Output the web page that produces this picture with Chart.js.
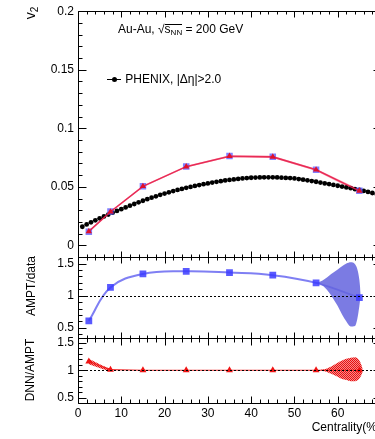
<!DOCTYPE html>
<html><head><meta charset="utf-8">
<script src="https://cdn.jsdelivr.net/npm/chart.js@4.4.1/dist/chart.umd.min.js"></script>
<style>
html,body{margin:0;padding:0;overflow:hidden;background:#fff;width:375px;height:439px}
#wrap{position:relative;width:400px;height:439px}
canvas{position:absolute;left:0;top:0}
.t{position:absolute;font-family:"Liberation Sans",Arial,Helvetica,sans-serif;color:#000;white-space:nowrap;line-height:1}
.rot{transform:translate(-50%,-50%) rotate(-90deg)}
</style></head><body>
<div id="wrap">
<canvas id="c" width="400" height="439"></canvas>
<div class="t rot" style="left:30px;top:13px;font-size:14px">v<span style="font-size:10px;position:relative;top:3px">2</span></div>
<div class="t rot" style="left:31px;top:286px;font-size:12px">AMPT/data</div>
<div class="t rot" style="left:30px;top:370px;font-size:12px">DNN/AMPT</div>
<div class="t" style="left:118px;top:23px;font-size:12px">Au-Au, √<span style="position:relative">s<span style="font-size:8px;position:relative;top:2px">NN</span><span style="position:absolute;left:0;right:0;top:2px;border-top:1px solid #000"></span></span> = 200 GeV</div>
<div class="t" style="left:107px;top:73px;font-size:12px"><span style="display:inline-block;width:14px;height:1px;background:#000;position:relative;vertical-align:middle;margin-right:1px"><span style="position:absolute;left:4.5px;top:-2px;width:5px;height:5px;border-radius:50%;background:#000"></span></span> PHENIX, |Δη|&gt;2.0</div>
</div>
<script>
// ---------------- data ----------------
const centrality = [2.5, 7.5, 15, 25, 35, 45, 55, 65];
const v2AMPT = [0.0118, 0.0290, 0.0506, 0.0675, 0.0764, 0.0758, 0.0647, 0.0467];
const v2DNN  = [0.0120, 0.0288, 0.0505, 0.0673, 0.0762, 0.0756, 0.0646, 0.0466];
const v2DNNHi = [0.0128, 0.0295, 0.0511, 0.0680, 0.0770, 0.0765, 0.0656, 0.0481];
const v2DNNLo = [0.0110, 0.0280, 0.0498, 0.0665, 0.0754, 0.0747, 0.0636, 0.0451];

const phenixCent = [1,2,3,4,5,6,7,8,9,10,11,12,13,14,15,16,17,18,19,20,21,22,23,24,25,26,27,28,29,30,31,32,33,34,35,36,37,38,39,40,41,42,43,44,45,46,47,48,49,50,51,52,53,54,55,56,57,58,59,60,61,62,63,64,65,66,67,68,69];
const phenixV2 = [0.0160,0.0180,0.0198,0.0215,0.0232,0.0248,0.0264,0.0280,0.0295,0.0310,
  0.0325,0.0340,0.0354,0.0368,0.0382,0.0395,0.0408,0.0420,0.0432,0.0443,
  0.0454,0.0464,0.0474,0.0483,0.0492,0.0500,0.0508,0.0516,0.0523,0.0530,
  0.0537,0.0543,0.0549,0.0555,0.0560,0.0564,0.0568,0.0572,0.0575,0.0578,
  0.0580,0.0581,0.0582,0.0582,0.0582,0.0581,0.0579,0.0577,0.0575,0.0572,
  0.0567,0.0562,0.0556,0.0550,0.0544,0.0537,0.0530,0.0524,0.0517,0.0510,
  0.0503,0.0496,0.0489,0.0481,0.0474,0.0466,0.0457,0.0448,0.0440];

const ratioAMPTData = [0.61, 1.13, 1.34, 1.38, 1.36, 1.32, 1.20, 0.97];
const ratioBandX  = [55, 56, 57, 58, 59, 60, 61, 62, 63, 64, 64.5, 65, 65.3];
const ratioBandHi = [1.20, 1.22, 1.26, 1.31, 1.36, 1.41, 1.46, 1.50, 1.52, 1.49, 1.42, 1.25, 1.04];
const ratioBandLo = [1.20, 1.18, 1.13, 1.05, 0.95, 0.84, 0.71, 0.60, 0.52, 0.53, 0.63, 0.84, 1.00];

const ratioDNNAMPT = [1.16, 1.01, 1.00, 1.00, 1.00, 1.00, 1.00, 1.00];
const dnnBandLeftX  = [2.5, 4, 5.5, 7, 8];
const dnnBandLeftHi = [1.21, 1.15, 1.09, 1.04, 1.01];
const dnnBandLeftLo = [1.11, 1.07, 1.03, 0.99, 0.99];
const dnnBandRightX  = [56, 57, 58, 59, 60, 61, 62, 63, 64, 65, 65.5, 65.8];
const dnnBandRightHi = [1.01, 1.02, 1.05, 1.09, 1.14, 1.18, 1.21, 1.23, 1.24, 1.18, 1.09, 1.01];
const dnnBandRightLo = [0.99, 0.98, 0.95, 0.92, 0.88, 0.84, 0.82, 0.80, 0.80, 0.85, 0.92, 0.99];

const xTickValues = [0, 10, 20, 30, 40, 50, 60];
const xTickLabels = ['0', '10', '20', '30', '40', '50', '60'];
const yTopTickValues = [0, 0.05, 0.1, 0.15, 0.2];
const yTopTickLabels = ['0', '0.05', '0.1', '0.15', '0.2'];
const yRatioTickValues = [0.5, 1, 1.5];
const yRatioTickLabels = ['0.5', '1', '1.5'];
const referenceLine = 1;

// ---------------- helpers ----------------
const pts = (xs, ys) => xs.map((x, i) => ({x: x, y: ys[i]}));

const pc = document.createElement('canvas');
pc.width = 2; pc.height = 2;
const pctx = pc.getContext('2d');
pctx.fillStyle = 'rgba(245,120,120,0.85)'; pctx.fillRect(0, 0, 2, 2);
pctx.fillStyle = '#e81010'; pctx.fillRect(0, 0, 1, 1); pctx.fillRect(1, 1, 1, 1);
const hatch = pctx.createPattern(pc, 'repeat');

Chart.defaults.font.family = '"Liberation Sans", Arial, Helvetica, sans-serif';
Chart.defaults.font.size = 12;
Chart.defaults.color = '#000';

const panels = [
  {id: 'yTop', minor: 0.01, major: 0.05, yMaj: 8, yMin: 4, xMaj: 6, xMin: 3},
  {id: 'yMid', minor: 0.1, major: 0.5, yMaj: 8, yMin: 4, xMaj: 6, xMin: 3},
  {id: 'yBot', minor: 0.1, major: 0.5, yMaj: 8, yMin: 4, xMaj: 7, xMin: 4}
];

const framePlugin = {
  id: 'frame',
  afterDatasetsDraw(chart) {
    const ctx = chart.ctx, xs = chart.scales.x, a = chart.chartArea;
    ctx.save();
    ctx.strokeStyle = '#000'; ctx.lineWidth = 1; ctx.setLineDash([2, 2]);
    ['yMid', 'yBot'].forEach(id => {
      const y = Math.round(chart.scales[id].getPixelForValue(referenceLine)) + 0.5;
      ctx.beginPath(); ctx.moveTo(xs.getPixelForValue(xs.min), y); ctx.lineTo(xs.getPixelForValue(xs.max), y); ctx.stroke();
    });
    ctx.setLineDash([]);
    const L = Math.round(a.left) + 0.5, R = Math.round(a.right) + 0.5;
    panels.forEach(p => {
      const ys = chart.scales[p.id];
      const T = Math.round(ys.top) + 0.5, B = Math.round(ys.bottom) + 0.5;
      ctx.beginPath();
      ctx.rect(L, T, R - L, B - T);
      for (let k = 0; k <= 35; k++) {
        const v = k * 2;
        if (v < xs.min || v > xs.max) continue;
        const px = Math.round(xs.getPixelForValue(v)) + 0.5;
        const len = (v % 10 === 0) ? p.xMaj : p.xMin;
        ctx.moveTo(px, T); ctx.lineTo(px, T + len);
        ctx.moveTo(px, B); ctx.lineTo(px, B - len);
      }
      const k0 = Math.ceil(ys.min / p.minor - 1e-6), k1 = Math.floor(ys.max / p.minor + 1e-6);
      for (let k = k0; k <= k1; k++) {
        const v = k * p.minor;
        const r = v / p.major;
        const isMaj = Math.abs(r - Math.round(r)) < 1e-6;
        const len = isMaj ? p.yMaj : p.yMin;
        const py = Math.round(ys.getPixelForValue(v)) + 0.5;
        ctx.moveTo(L, py); ctx.lineTo(L + len, py);
        ctx.moveTo(R, py); ctx.lineTo(R - len, py);
      }
      ctx.stroke();
    });
    ctx.restore();
  }
};

const yScale = (min, max, weight, vals, labels) => ({
  type: 'linear', position: 'left', stack: 'panels', stackWeight: weight,
  min: min, max: max,
  grid: {display: false, drawTicks: false}, border: {display: false},
  afterBuildTicks: s => { s.ticks = vals.map(v => ({value: v})); },
  afterFit: s => { s.width = 78; },
  ticks: {padding: 4, font: {size: 12}, callback: (v, i) => labels[i]}
});

new Chart(document.getElementById('c'), {
  type: 'line',
  data: {
    datasets: [
      {data: pts(centrality, v2DNNLo), yAxisID: 'yTop', borderWidth: 0, pointRadius: 0, fill: false, order: 30},
      {data: pts(centrality, v2DNNHi), yAxisID: 'yTop', borderWidth: 0, pointRadius: 0, fill: '-1', backgroundColor: 'rgba(255,110,140,0.55)', order: 30},
      {data: pts(phenixCent, phenixV2), yAxisID: 'yTop', showLine: false, pointRadius: 2.4, pointBorderWidth: 0, pointBackgroundColor: '#000', order: 20},
      {data: pts(centrality, v2AMPT), yAxisID: 'yTop', showLine: false, pointStyle: 'rect', pointRadius: 4.6, pointBorderWidth: 0, pointBackgroundColor: 'rgba(85,85,255,0.75)', order: 10},
      {data: pts(centrality, v2DNN), yAxisID: 'yTop', borderColor: 'rgba(230,30,75,0.9)', borderWidth: 1.6, pointStyle: 'triangle', pointRadius: 3.6, pointBorderWidth: 0, pointBackgroundColor: '#e0102a', fill: false, order: 5},
      {data: pts(centrality, ratioAMPTData), yAxisID: 'yMid', borderColor: 'rgba(95,95,240,0.8)', borderWidth: 2, pointRadius: 0, tension: 0.4, fill: false, order: 40},
      {data: pts(ratioBandX, ratioBandLo), yAxisID: 'yMid', borderWidth: 0, pointRadius: 0, fill: false, order: 30, cubicInterpolationMode: 'monotone'},
      {data: pts(ratioBandX, ratioBandHi), yAxisID: 'yMid', borderWidth: 0, pointRadius: 0, fill: '-1', backgroundColor: 'rgba(100,100,222,0.85)', order: 30, cubicInterpolationMode: 'monotone'},
      {data: pts(centrality, ratioAMPTData), yAxisID: 'yMid', showLine: false, pointStyle: 'rect', pointRadius: 4.8, pointBorderWidth: 0, pointBackgroundColor: 'rgba(60,60,255,0.85)', order: 10},
      {data: pts(dnnBandLeftX, dnnBandLeftLo), yAxisID: 'yBot', borderWidth: 0, pointRadius: 0, fill: false, order: 30},
      {data: pts(dnnBandLeftX, dnnBandLeftHi), yAxisID: 'yBot', borderWidth: 0, pointRadius: 0, fill: '-1', backgroundColor: hatch, order: 30},
      {data: pts(dnnBandRightX, dnnBandRightLo), yAxisID: 'yBot', borderWidth: 0, pointRadius: 0, fill: false, order: 30, cubicInterpolationMode: 'monotone'},
      {data: pts(dnnBandRightX, dnnBandRightHi), yAxisID: 'yBot', borderWidth: 0, pointRadius: 0, fill: '-1', backgroundColor: hatch, order: 30, cubicInterpolationMode: 'monotone'},
      {data: pts(centrality, ratioDNNAMPT), yAxisID: 'yBot', borderColor: 'rgba(240,30,30,0.9)', borderWidth: 1.2, pointStyle: 'triangle', pointRadius: 4, pointBorderWidth: 0, pointBackgroundColor: '#f01414', fill: false, order: 5}
    ]
  },
  options: {
    responsive: false, animation: false, events: [],
    layout: {padding: {left: 0, right: 19, top: 8, bottom: 0}},
    plugins: {legend: {display: false}, tooltip: {enabled: false}},
    scales: {
      x: {
        type: 'linear', min: 0, max: 70,
        grid: {display: false, drawTicks: false}, border: {display: false},
        afterBuildTicks: s => { s.ticks = xTickValues.map(v => ({value: v})); },
        afterFit: s => { s.height = 36; },
        ticks: {padding: 3, maxRotation: 0, autoSkip: false, font: {size: 12}, callback: (v, i) => xTickLabels[i]},
        title: {display: true, text: 'Centrality(%)', align: 'end', font: {size: 12}, padding: {top: 0, bottom: 4}}
      },
      yBot: yScale(0.4, 1.6, 66, yRatioTickValues, yRatioTickLabels),
      yMid: yScale(0.35, 1.6, 81, yRatioTickValues, yRatioTickLabels),
      yTop: yScale(-0.01, 0.2, 248, yTopTickValues, yTopTickLabels)
    }
  },
  plugins: [framePlugin]
});
</script>
</body></html>
